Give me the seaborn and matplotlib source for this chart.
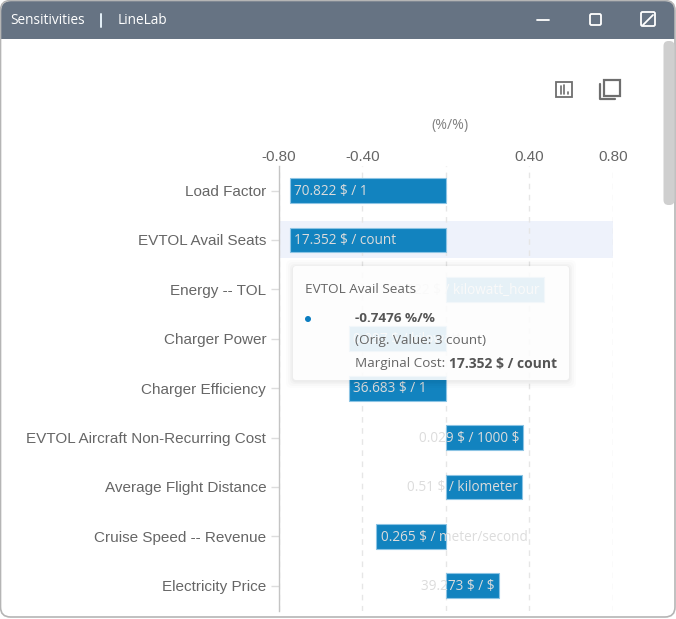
import matplotlib
matplotlib.use("Agg")
import matplotlib.pyplot as plt
import pandas as pd
import seaborn as sns
from matplotlib.patches import FancyBboxPatch, Rectangle, Circle

# --- data ---
categories = ["Load Factor", "EVTOL Avail Seats", "Energy -- TOL", "Charger Power",
              "Charger Efficiency", "EVTOL Aircraft Non-Recurring Cost",
              "Average Flight Distance", "Cruise Speed -- Revenue", "Electricity Price"]
sensitivity = [-0.746, -0.7476, 0.469, -0.464, -0.464, 0.372, 0.367, -0.332, 0.255]
bar_labels = ["70.822 $ / 1", "17.352 $ / count", "0.022 $ / kilowatt_hour", "0.097 $ / kilowatt",
              "36.683 $ / 1", "0.029 $ / 1000 $", "0.51 $ / kilometer",
              "0.265 $ / meter/second", "39.273 $ / $"]
x_ticks = [-0.8, -0.4, 0.0, 0.4, 0.8]
x_tick_labels = ["-0.80", "-0.40", "", "0.40", "0.80"]

W, H = 676, 619
BAR_BLUE = "#1283bf"
UI_FONT = "Open Sans"

sns.set_theme(style="white")
plt.rcParams["font.family"] = ["Liberation Sans", "DejaVu Sans"]
plt.rcParams["text.parse_math"] = False  # labels have literal $ signs

fig = plt.figure(figsize=(W / 100, H / 100), dpi=100, facecolor="white")

# plot area in window pixels: x 279-613, y 165.8-610.5
ax = fig.add_axes([278.7 / W, 1 - 610.5 / H, 334 / W, 444.7 / H], zorder=2)
ax.patch.set_alpha(0)

df = pd.DataFrame({"category": categories, "sensitivity": sensitivity})
ax.axhspan(0.625, 1.375, color="#eef2fb", lw=0, zorder=0)
sns.barplot(data=df, x="sensitivity", y="category", orient="h", color=BAR_BLUE, saturation=1,
            width=0.5, edgecolor="#8cc4e4", linewidth=0.8, zorder=2, ax=ax)

ax.set_xlim(-0.8, 0.8)
ax.set_ylim(8.5, -0.5)
ax.set_xlabel("")
ax.set_ylabel("")
ax.xaxis.tick_top()
ax.set_xticks(x_ticks)
ax.set_xticklabels(x_tick_labels)
ax.tick_params(axis="x", length=0, pad=1.5, labelsize=11, labelcolor="#666666")
ax.tick_params(axis="y", length=6, width=1, color="#dddddd", pad=3, labelsize=11, labelcolor="#666666",
               left=True)
ax.grid(axis="x", color="#e6e6e6", linestyle=(0, (4, 4)), linewidth=1)
ax.set_axisbelow(True)
for side in ["top", "right", "bottom"]:
    ax.spines[side].set_visible(False)
ax.spines["left"].set_color("#c4c4c4")
ax.spines["left"].set_linewidth(1)

# value labels sit inside the base end of each bar, light grey
for bar, val, label in zip(ax.containers[0], sensitivity, bar_labels):
    y_mid = bar.get_y() + bar.get_height() / 2
    if val < 0:
        ax.annotate(label, (val, y_mid), xytext=(3, -0.5), textcoords="offset points", ha="left", va="center",
                    color="#dcdcdc", fontsize=9.8, family=UI_FONT, zorder=4)
    else:
        ax.annotate(label, (val, y_mid), xytext=(-3, -0.5), textcoords="offset points", ha="right", va="center",
                    color="#dcdcdc", fontsize=9.8, family=UI_FONT, zorder=4)

# window chrome and tooltip, drawn in pixel coords on a transparent overlay
ov = fig.add_axes([0, 0, 1, 1], zorder=5)
ov.set_xlim(0, W)
ov.set_ylim(H, 0)
ov.axis("off")

# title bar + outer border
ov.add_patch(FancyBboxPatch((1, 1), W - 2, 60, boxstyle="round,pad=0,rounding_size=10",
                            fc="#667383", ec="none", zorder=1))
ov.add_patch(Rectangle((0, 39), W, 24, fc="white", ec="none", zorder=2))
ov.add_patch(FancyBboxPatch((0.5, 0.5), W - 1.5, H - 2.5, boxstyle="round,pad=0,rounding_size=10",
                            fc="none", ec="#b5b5b5", lw=1.2, zorder=3))
ov.text(10, 20.5, "Sensitivities", color="white", fontsize=9.8, family=UI_FONT, va="center", zorder=4)
ov.plot([101, 101], [14, 27], color="#e6f2fa", lw=1.4, zorder=4)
ov.text(118, 20.5, "LineLab", color="white", fontsize=9.8, family=UI_FONT, va="center", zorder=4)

# title bar buttons
ov.plot([537, 549], [19.5, 19.5], color="white", lw=1.3, zorder=4)
ov.add_patch(FancyBboxPatch((590, 14), 11, 11, boxstyle="round,pad=0,rounding_size=1.5",
                            fc="none", ec="white", lw=1.3, zorder=4))
ov.add_patch(FancyBboxPatch((641, 12), 14, 14, boxstyle="round,pad=0,rounding_size=1.5",
                            fc="none", ec="white", lw=1.3, zorder=4))
ov.plot([643, 653], [25, 15], color="white", lw=1.3, zorder=5)

# scrollbar
ov.add_patch(FancyBboxPatch((663.5, 41), 11, 164, boxstyle="round,pad=0,rounding_size=5",
                            fc="#cfcfcf", ec="none", zorder=4))

# toolbox icons
ov.add_patch(Rectangle((556, 82), 16, 15, fc="none", ec="#6e6e6e", lw=1.3, zorder=4))
for bx, top in [(560.5, 86), (564, 85), (568, 92)]:
    ov.plot([bx, bx], [top, 94], color="#6e6e6e", lw=1.2, zorder=4)
ov.add_patch(Rectangle((604, 80), 16, 16, fc="none", ec="#6e6e6e", lw=1.6, zorder=4))
ov.plot([600, 600, 615], [84, 99, 99], color="#6e6e6e", lw=1.6, zorder=4)

ov.text(450, 125, "(%/%)", color="#808080", fontsize=10.2, family=UI_FONT, ha="center", va="center", zorder=4)

# tooltip: soft shadow + translucent white card
for grow, a in [(7, 0.012), (5, 0.015), (3, 0.02), (1.5, 0.025)]:
    ov.add_patch(FancyBboxPatch((293 - grow, 266 - grow + 1), 276 + 2 * grow, 114 + 2 * grow,
                                boxstyle="round,pad=0,rounding_size=5", fc="black", ec="none", alpha=a, zorder=5))
ov.add_patch(FancyBboxPatch((293, 266), 276, 114, boxstyle="round,pad=0,rounding_size=3",
                            fc="white", ec="none", alpha=0.9, zorder=6))
tip = dict(family=UI_FONT, fontsize=9.7, color="#666666", va="center", zorder=7)
ov.text(305, 289.5, "EVTOL Avail Seats", **tip)
ov.add_patch(Circle((308, 319), 3, fc="#0b7dc0", ec="none", zorder=7))
ov.text(355, 318, "-0.7476 %/%", **{**tip, "color": "#555555"}, fontweight="bold")
ov.text(355, 340.5, "(Orig. Value: 3 count)", **tip)
ov.text(355, 364, "Marginal Cost:", **tip)
ov.text(449, 364, "17.352 $ / count", **{**tip, "color": "#555555", "fontsize": 10}, fontweight="bold")

fig.savefig("out.png", dpi=100)
